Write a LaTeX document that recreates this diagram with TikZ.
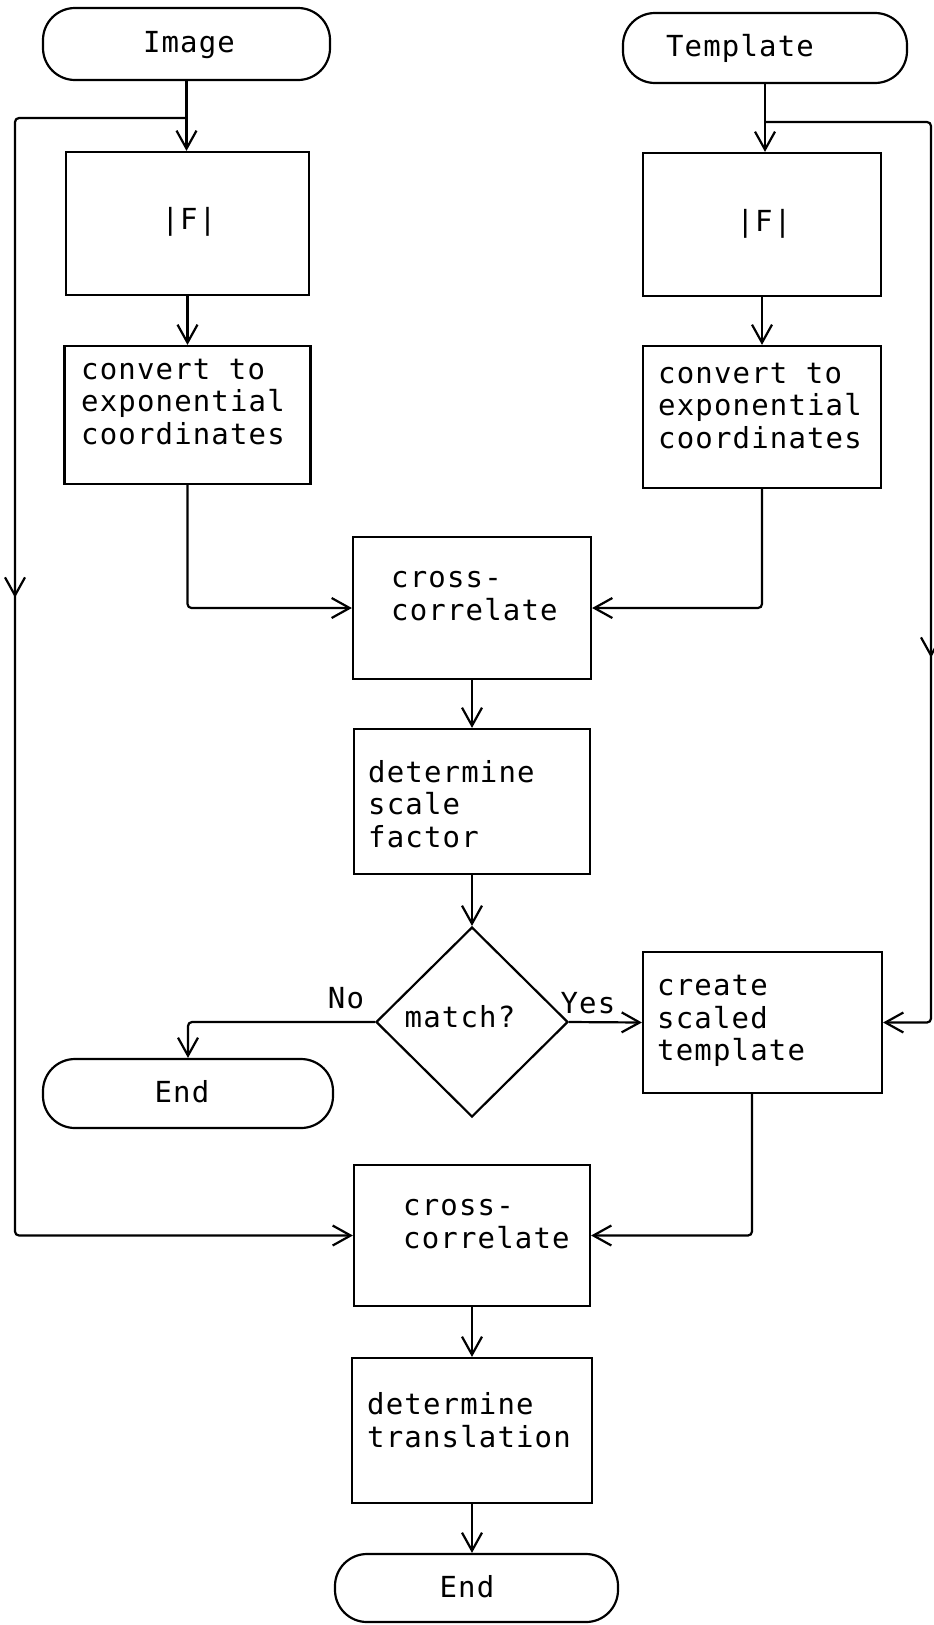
\documentclass[tikz,border=0pt]{standalone}
\usepackage{fontspec}
\newfontfamily\tw[LetterSpace=4]{DejaVu Sans Mono}
\usetikzlibrary{arrows.meta,decorations.markings,shapes.geometric}
\begin{document}
\begin{tikzpicture}[x=1pt,y=-1pt,
  every node/.style={font=\tw\fontsize{29}{32.5}\selectfont, inner sep=0pt},
  box/.style={draw, line width=2.2pt, rectangle},
  term/.style={draw, line width=2.2pt, rectangle, rounded corners=32pt},
  dec/.style={draw, line width=2.2pt, diamond},
  txt/.style={anchor=west, align=left},
  arr/.style={line width=2.2pt, -{Straight Barb[length=18pt,width=20pt]}},
  midarr/.style={postaction={decorate, decoration={markings,
      mark=at position #1 with {\arrow{Straight Barb[length=18pt,width=20pt]}}}}}]
\useasboundingbox (0,0) rectangle (934,1625);

% terminals
\node[term, minimum width=287, minimum height=72] (img) at (186.5,44) {};
\node (imgt) at (189,45) {Image};
\node[term, minimum width=284, minimum height=70] (tpl) at (765,48) {};
\node (tplt) at (740,48) {Template};

% left column
\node[box, minimum width=243, minimum height=143] (f1) at (187.5,223.5) {};
\node (f1t) at (189,222) {|F|};
\node[box, minimum width=246, minimum height=138] (c1) at (187.5,415) {};
\node[txt] (c1t) at (81,402) {convert to\\exponential\\coordinates};

% right column
\node[box, minimum width=238, minimum height=143] (f2) at (762,224.5) {};
\node (f2t) at (764,224) {|F|};
\node[box, minimum width=238, minimum height=142] (c2) at (762,417) {};
\node[txt] (c2t) at (658,406) {convert to\\exponential\\coordinates};

% middle column
\node[box, minimum width=238, minimum height=142] (x1) at (472,608) {};
\node[txt] (x1t) at (391,596) {cross-\\correlate};
\node[box, minimum width=236, minimum height=145] (d1) at (472,801.5) {};
\node[txt] (d1t) at (368,804) {determine\\scale\\factor};
\node[dec, minimum width=192, minimum height=190] (m) at (472,1022) {};
\node (mt) at (460,1017) {match?};
\node[box, minimum width=239, minimum height=141] (cs) at (762.5,1022.5) {};
\node[txt] (cst) at (657,1021) {create\\scaled\\template};
\node[term, minimum width=290, minimum height=69] (endl) at (188,1093.5) {};
\node (endlt) at (182,1092) {End};
\node[box, minimum width=236, minimum height=141] (x2) at (472,1235.5) {};
\node[txt] (x2t) at (403,1224) {cross-\\correlate};
\node[box, minimum width=240, minimum height=145] (d2) at (472,1430.5) {};
\node[txt] (d2t) at (367,1420) {determine\\translation};
\node[term, minimum width=283, minimum height=68] (endb) at (476.5,1588) {};
\node (endbt) at (467,1587) {End};

% labels
\node (yes) at (588,1003) {Yes};
\node (no) at (346,998) {No};

% helper coordinates
\coordinate (bl) at (186.5,118);
\coordinate (lx) at (15,600);
\coordinate (br) at (765,122);
\coordinate (rx) at (931,600);
\coordinate (cb) at (752,1093);

% connectors
\draw[arr] (img.south -| bl) -- (bl |- f1.north);
\draw[arr] (tpl.south -| br) -- (br |- f2.north);
\draw[arr] (f1.south) -- (c1.north);
\draw[arr] (f2.south) -- (c2.north);
\draw[arr, rounded corners=4pt] (c1.south) |- (x1.west);
\draw[arr, rounded corners=4pt] (c2.south) |- (x1.east);
\draw[arr] (x1.south) -- (d1.north);
\draw[arr] (d1.south) -- (m.north);
\draw[arr] (m.east) -- (cs.west);
\draw[arr, rounded corners=4pt] (m.west) -| (endl.north);
\draw[arr, rounded corners=4pt, midarr=0.40] (bl) -| (lx) |- (x2.west);
\draw[arr, rounded corners=4pt, midarr=0.63] (br) -| (rx) |- (cs.east);
\draw[arr, rounded corners=4pt] (cb) |- (x2.east);
\draw[arr] (x2.south) -- (d2.north);
\draw[arr] (d2.south) -- (d2.south |- endb.north);
\end{tikzpicture}
\end{document}
